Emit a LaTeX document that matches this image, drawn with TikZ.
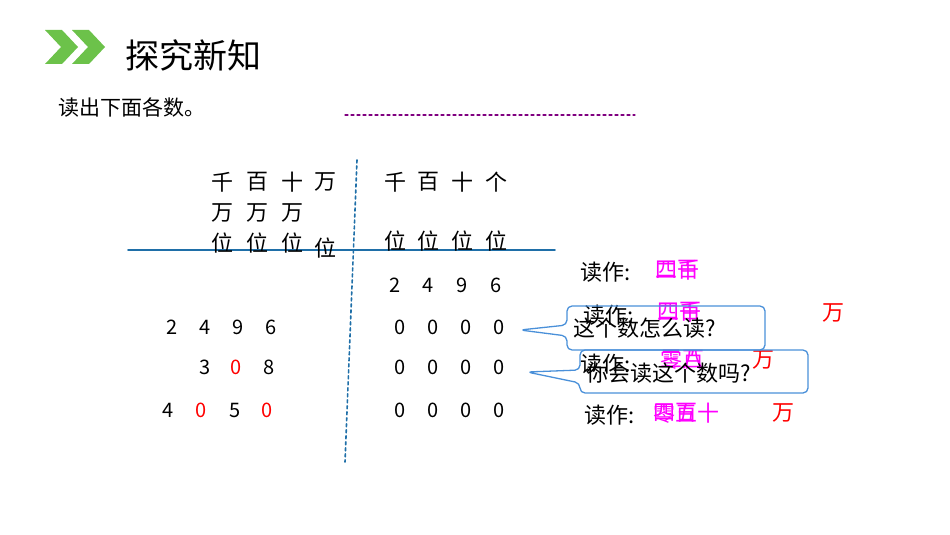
\documentclass[tikz,border=0pt]{standalone}
\usepackage{fontspec}
\setmainfont{Noto Sans CJK SC}
\usepackage{tikz}
\usetikzlibrary{arrows.meta}
\definecolor{chev}{HTML}{6CC24A}
\definecolor{rule}{HTML}{1F6FA8}
\definecolor{bub}{HTML}{4A90D9}
\definecolor{pinkt}{HTML}{FF00FF}
\tikzset{
    cn/.style={font=\fontsize{22}{22}\selectfont, inner sep=0pt},
    dg/.style={font=\fontsize{20}{20}\selectfont, inner sep=0pt},
    pk/.style={cn, text=pinkt, anchor=west},
    rd/.style={text=red}
}
\begin{document}
\begin{tikzpicture}[x=1pt, y=-1pt, line cap=round, line join=round]
\useasboundingbox (0,0) rectangle (950,535);

% header
\fill[chev] (45,30) -- (62,30) -- (78,47) -- (62,64) -- (45,64) -- (61,47) -- cycle;
\fill[chev] (72,30) -- (89,30) -- (105,47) -- (89,64) -- (72,64) -- (88,47) -- cycle;
\node[anchor=west, font=\fontsize{34}{34}\selectfont, inner sep=0pt] (title) at (125,55) {探究新知};
\node[anchor=west, font=\fontsize{21}{21}\selectfont, inner sep=0pt] (task) at (58,107) {读出下面各数。};
\draw[violet, dashed, line width=1.2pt] (345,115) -- (635,115);

% table rules
\draw[rule, line width=1.8pt] (128,250) -- (555,250);
\draw[rule, line width=1.6pt, dashed] (357,160) -- (345,462);

% column heads
\foreach \x/\a/\b in {222/千/万, 257/百/万, 292/十/万} {
    \node[cn] at (\x,182) {\a};
    \node[cn] at (\x,213) {\b};
    \node[cn] at (\x,243) {位};
}
\node[cn] at (325,182) {万};
\node[cn] at (325,248) {位};
\foreach \x/\a in {395/千, 428/百, 462/十, 496/个} {
    \node[cn] at (\x,182) {\a};
    \node[cn] at (\x,241) {位};
}

% digits
\foreach \x/\d in {395/2, 428/4, 462/9, 496/6}
    \node[dg] at (\x,285) {\d};
\foreach \y in {327,367,410}
    \foreach \x in {400,433,466,499}
        \node[dg] at (\x,\y) {0};
\foreach \x/\d in {172/2, 205/4, 238/9, 271/6}
    \node[dg] at (\x,327) {\d};
\node[dg] at (205,367) {3};
\node[dg, rd] at (236,367) {0};
\node[dg] at (269,367) {8};
\node[dg] at (168,410) {4};
\node[dg, rd] at (201,410) {0};
\node[dg] at (235,410) {5};
\node[dg, rd] at (267,410) {0};

% readings
\node[cn, anchor=west] (r1) at (580,272) {读作:};
\node[pk] at (655,270) {二千};
\node[pk] at (655,270) {四百};
\node[cn, anchor=west] (r2) at (583,315) {读作:};
\node[pk] at (657,312) {二千};
\node[pk] at (657,312) {四百};
\node[cn, rd] at (833,313) {万};
\node[cn, anchor=west] (r3) at (580,364) {读作:};
\node[pk] at (660,360) {三百};
\node[pk] at (660,360) {零八};
\node[cn, rd] at (763,360) {万};
\node[cn, anchor=west] (r4) at (584,415) {读作:};
\node[pk] at (653,413) {四百};
\node[pk] at (653,413) {零五十};
\node[cn, rd] at (783,413) {万};

% bubbles
\coordinate (tip1) at (520,330);
\coordinate (tip2) at (527,372);
\draw[bub, line width=1.3pt, rounded corners=5pt] (567,306) -- (765,306) -- (765,350) -- (567,350) -- (567,336) -- (tip1) -- (567,325) -- cycle;
\draw[bub, line width=1.3pt, rounded corners=5pt] (580,350) -- (808,350) -- (808,393) -- (580,393) -- (580,383) -- (tip2) -- (580,370) -- cycle;
\node[cn, anchor=west] (q1) at (573,328) {这个数怎么读?};
\node[cn, anchor=west] (q2) at (586,373) {你会读这个数吗?};
\end{tikzpicture}
\end{document}
